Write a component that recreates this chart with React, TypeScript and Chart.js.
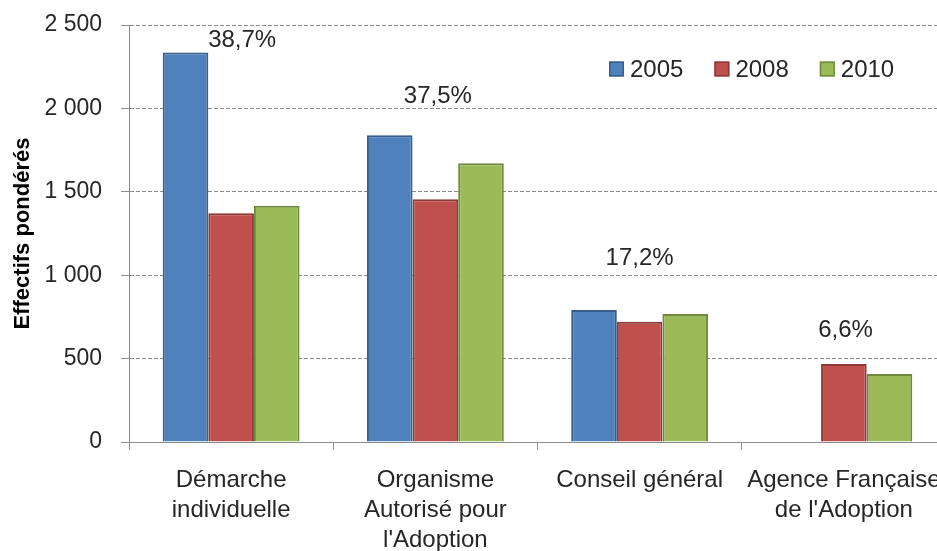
import React, { useEffect, useRef } from "react";
import { Chart, registerables } from "chart.js";

Chart.register(...registerables);

// ---- data ----
const categories: string[][] = [
  ["Démarche", "individuelle"],
  ["Organisme", "Autorisé pour", "l'Adoption"],
  ["Conseil général"],
  ["Agence Française", "de l'Adoption"],
];
const seriesLabels = ["2005", "2008", "2010"];
const values2005: (number | null)[] = [2335, 1839, 791, null];
const values2008: (number | null)[] = [1371, 1455, 721, 468];
const values2010: (number | null)[] = [1417, 1671, 767, 408];
const shareLabels = ["38,7%", "37,5%", "17,2%", "6,6%"];
const shareLabelY = [2410, 2070, 1100, 670];
const shareLabelDx = [0.054, 0.012, 0, 0.008];
const yMin = 0;
const yMax = 2500;
const yStep = 500;
const yTitle = "Effectifs pondérés";

const fillColors = ["#4F81BD", "#C0504D", "#9BBB59"];
const edgeColors = ["#385D8A", "#8C3836", "#71893F"];

const FONT = "'Liberation Sans', Arial, sans-serif";
const TEXT = "#262626";
const GRID = "#8C8C8C";

function fmt(v: number): string {
  return String(v).replace(/\B(?=(\d{3})+(?!\d))/g, " ");
}

export default function App() {
  const ref = useRef<HTMLCanvasElement>(null);

  useEffect(() => {
    const canvas = ref.current;
    if (!canvas) return;

    const shareLabelPlugin = {
      id: "shareLabels",
      afterDatasetsDraw(chart: any) {
        const { ctx } = chart;
        const x = chart.scales.x;
        const y = chart.scales.y;
        ctx.save();
        ctx.font = `24px ${FONT}`;
        ctx.fillStyle = TEXT;
        ctx.textAlign = "center";
        ctx.textBaseline = "middle";
        shareLabels.forEach((t, i) => {
          const px = x.getPixelForValue(i + shareLabelDx[i]);
          const py = y.getPixelForValue(shareLabelY[i]);
          ctx.fillText(t, px, py);
        });
        ctx.restore();
      },
    };

    const legendPlugin = {
      id: "customLegend",
      afterDraw(chart: any) {
        const { ctx, chartArea } = chart;
        const box = 15;
        const gap = 6;
        const itemGap = 31;
        let cx = chartArea.left + 480;
        const cy = 69;
        ctx.save();
        ctx.font = `24px ${FONT}`;
        ctx.textBaseline = "middle";
        ctx.textAlign = "left";
        chart.data.datasets.forEach((ds: any) => {
          ctx.fillStyle = ds.backgroundColor;
          ctx.fillRect(cx, cy - box / 2, box, box);
          ctx.strokeStyle = ds.borderColor;
          ctx.lineWidth = 1.5;
          ctx.strokeRect(cx + 0.75, cy - box / 2 + 0.75, box - 1.5, box - 1.5);
          ctx.fillStyle = TEXT;
          const tx = cx + box + gap;
          ctx.fillText(ds.label, tx, cy + 1);
          cx = tx + ctx.measureText(ds.label).width + itemGap;
        });
        ctx.restore();
      },
    };

    const seriesValues = [values2005, values2008, values2010];

    const chart = new Chart(canvas, {
      type: "bar",
      data: {
        labels: categories,
        datasets: seriesLabels.map((label, i) => ({
          label,
          data: seriesValues[i],
          backgroundColor: fillColors[i],
          borderColor: edgeColors[i],
          borderWidth: 2,
          barPercentage: 1,
          categoryPercentage: 0.67,
        })),
      },
      options: {
        responsive: false,
        maintainAspectRatio: false,
        animation: false,
        devicePixelRatio: 1,
        layout: { padding: { top: 25, right: 4, left: 0, bottom: 0 } },
        plugins: {
          legend: { display: false },
          tooltip: { enabled: false },
        },
        scales: {
          x: {
            type: "category",
            grid: {
              display: true,
              drawOnChartArea: false,
              drawTicks: true,
              tickLength: 8,
              color: GRID,
              tickColor: GRID,
              offset: true,
            },
            border: { display: true, color: GRID, width: 1 },
            ticks: {
              autoSkip: false,
              maxRotation: 0,
              minRotation: 0,
              padding: 15,
              color: TEXT,
              font: { family: FONT, size: 24, lineHeight: 1.25 },
            },
            afterFit(scale: any) {
              scale.height = 109;
              scale.paddingLeft = 0;
              scale.paddingRight = 0;
            },
          },
          y: {
            min: yMin,
            max: yMax,
            ticks: {
              stepSize: yStep,
              padding: 19,
              color: TEXT,
              font: { family: FONT, size: 23 },
              callback: (v: any) => fmt(Number(v)),
            },
            grid: {
              display: true,
              drawOnChartArea: true,
              drawTicks: true,
              tickLength: 8,
              color: GRID,
              tickColor: GRID,
              lineWidth: 1,
            },
            border: { display: true, color: GRID, width: 1, dash: [4, 2] },
            title: {
              display: true,
              text: yTitle,
              color: "#000000",
              font: { family: FONT, size: 22, weight: "bold" },
              padding: { top: 10, bottom: 0 },
            },
            afterFit(scale: any) {
              scale.width = 129;
              scale.paddingTop = 0;
              scale.paddingBottom = 0;
            },
          },
        },
      },
      plugins: [shareLabelPlugin, legendPlugin],
    } as any);

    return () => chart.destroy();
  }, []);

  return (
    <div
      style={{
        position: "absolute",
        left: 0,
        top: 0,
        width: 937,
        height: 551,
        overflow: "hidden",
        background: "#ffffff",
      }}
    >
      <canvas ref={ref} width={950} height={551} style={{ display: "block" }} />
    </div>
  );
}
